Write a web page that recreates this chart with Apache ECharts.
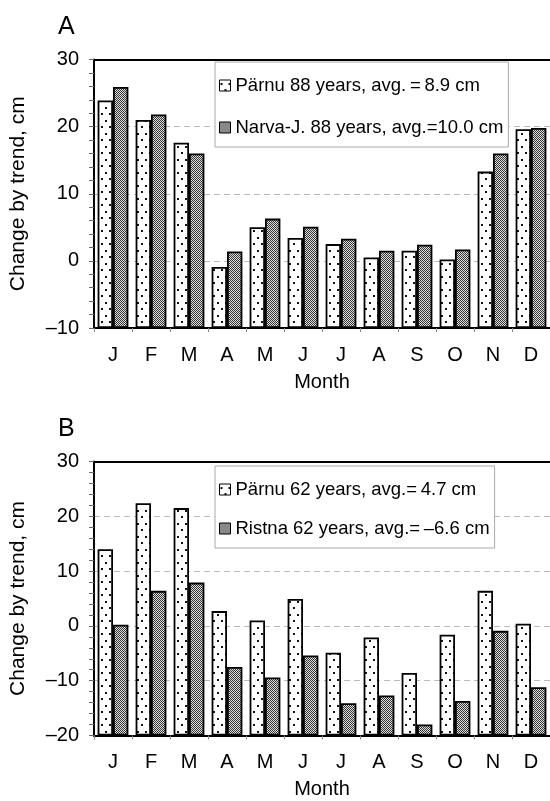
<!DOCTYPE html>
<html>
<head>
<meta charset="utf-8">
<script src="https://cdn.jsdelivr.net/npm/echarts@6/dist/echarts.min.js"></script>
<style>
  html, body { margin: 0; padding: 0; background: #fff; }
  #chart { width: 550px; height: 801px; }
</style>
</head>
<body>
<div id="chart"></div>
<script>
const FONT = '"Liberation Sans", Arial, sans-serif'

const months = ['J', 'F', 'M', 'A', 'M', 'J', 'J', 'A', 'S', 'O', 'N', 'D']

// panel A, 88 years
const parnuA = [23.9, 21.0, 17.6, -0.9, 5.0, 3.4, 2.5, 0.5, 1.5, 0.2, 13.3, 19.6]
const narvaA = [25.9, 21.8, 16.0, 1.4, 6.3, 5.1, 3.3, 1.5, 2.4, 1.7, 16.0, 19.8]
// panel B, 62 years
const parnuB = [14.0, 22.4, 21.5, 2.7, 1.0, 4.9, -4.9, -2.1, -8.6, -1.6, 6.4, 0.4]
const ristnaB = [0.2, 6.4, 7.9, -7.5, -9.4, -5.4, -14.1, -12.7, -18.0, -13.7, -0.9, -11.2]

const yRangeA = [-10, 30]
const yRangeB = [-20, 30]
const yStep = 10

const namesA = ['Pärnu 88 years, avg.\u2009=\u20098.9 cm', 'Narva-J. 88 years, avg.=10.0 cm']
const namesB = ['Pärnu 62 years, avg.=\u20094.7 cm', 'Ristna 62 years, avg.=\u2009\u20136.6 cm']

// fill patterns: sparse dots and a fine checker
function dotPattern() {
  const c = document.createElement('canvas')
  c.width = 8
  c.height = 13
  const ctx = c.getContext('2d')
  ctx.fillStyle = '#fff'
  ctx.fillRect(0, 0, 8, 13)
  ctx.fillStyle = '#111'
  ctx.fillRect(1, 3, 2, 2)
  ctx.fillRect(5, 9, 2, 2)
  return c
}

function checkPattern() {
  const c = document.createElement('canvas')
  c.width = 2
  c.height = 2
  const ctx = c.getContext('2d')
  ctx.fillStyle = '#e0e0e0'
  ctx.fillRect(0, 0, 2, 2)
  ctx.fillStyle = '#333'
  ctx.fillRect(0, 0, 1, 1)
  ctx.fillRect(1, 1, 1, 1)
  return c
}

const dots = { image: dotPattern(), repeat: 'repeat' }
const checks = { image: checkPattern(), repeat: 'repeat' }

const minus = (v) => (v < 0 ? '\u2013' + Math.abs(v) : String(v))

function xAxes(gi) {
  return [
    {
      type: 'category',
      gridIndex: gi,
      data: months,
      boundaryGap: true,
      name: 'Month',
      nameLocation: 'middle',
      nameGap: 44,
      nameTextStyle: { fontFamily: FONT, fontSize: 20, color: '#000' },
      axisLine: { onZero: false, lineStyle: { color: '#000', width: 2 } },
      axisTick: { show: true, length: 4, lineStyle: { color: '#888' } },
      axisLabel: { fontFamily: FONT, fontSize: 20, color: '#000', margin: 17 },
    },
    {
      type: 'category',
      gridIndex: gi,
      data: months,
      position: 'top',
      axisLine: { onZero: false, lineStyle: { color: '#000', width: 2 } },
      axisTick: { show: false },
      axisLabel: { show: false },
    },
  ]
}

function yAxis(gi, range) {
  return {
    type: 'value',
    gridIndex: gi,
    min: range[0],
    max: range[1],
    interval: yStep,
    startValue: range[0],
    name: 'Change by trend, cm',
    nameLocation: 'middle',
    nameGap: 65,
    nameTextStyle: { fontFamily: FONT, fontSize: 21, color: '#000' },
    axisLine: { show: true, onZero: false, lineStyle: { color: '#000', width: 2 } },
    axisTick: { show: true, length: 5, lineStyle: { color: '#666' } },
    minorTick: { show: true, splitNumber: 5, length: 5, lineStyle: { color: '#666' } },
    axisLabel: { fontFamily: FONT, fontSize: 20, color: '#000', margin: 15, formatter: minus },
    splitLine: {
      show: true,
      showMinLine: false,
      showMaxLine: false,
      lineStyle: { color: '#bbb', type: [6, 4], width: 1 },
    },
  }
}

function bar(name, data, xi, yi, fill) {
  return {
    type: 'bar',
    name: name,
    xAxisIndex: xi,
    yAxisIndex: yi,
    data: data,
    barGap: '0%',
    barCategoryGap: '19%',
    itemStyle: { color: fill, borderColor: '#000', borderWidth: 1.8 },
    emphasis: { disabled: true },
  }
}

function legend(names, top, gap) {
  return {
    orient: 'vertical',
    left: 215,
    top: top,
    data: names,
    icon: 'rect',
    itemWidth: 11,
    itemHeight: 11,
    itemGap: gap,
    padding: [14, 5, 10, 4],
    backgroundColor: '#fff',
    borderColor: '#aaa',
    borderWidth: 1,
    itemStyle: { borderColor: '#000', borderWidth: 1 },
    textStyle: { fontFamily: FONT, fontSize: 18.5, color: '#000' },
    selectedMode: false,
  }
}

const chart = echarts.init(document.getElementById('chart'), null, { renderer: 'canvas' })

chart.setOption({
  animation: false,
  backgroundColor: '#fff',
  title: [
    { text: 'A', left: 53, top: 10, textStyle: { fontFamily: FONT, fontSize: 25, fontWeight: 'normal', color: '#000' } },
    { text: 'B', left: 53, top: 412, textStyle: { fontFamily: FONT, fontSize: 25, fontWeight: 'normal', color: '#000' } },
  ],
  legend: [legend(namesA, 62, 23), legend(namesB, 466, 20)],
  grid: [
    { left: 93, right: -3, top: 59.5, height: 268.5 },
    { left: 93, right: -3, top: 461.5, height: 274 },
  ],
  xAxis: [...xAxes(0), ...xAxes(1)],
  yAxis: [yAxis(0, yRangeA), yAxis(1, yRangeB)],
  series: [
    bar(namesA[0], parnuA, 0, 0, dots),
    bar(namesA[1], narvaA, 0, 0, checks),
    bar(namesB[0], parnuB, 2, 1, dots),
    bar(namesB[1], ristnaB, 2, 1, checks),
  ],
})
</script>
</body>
</html>
